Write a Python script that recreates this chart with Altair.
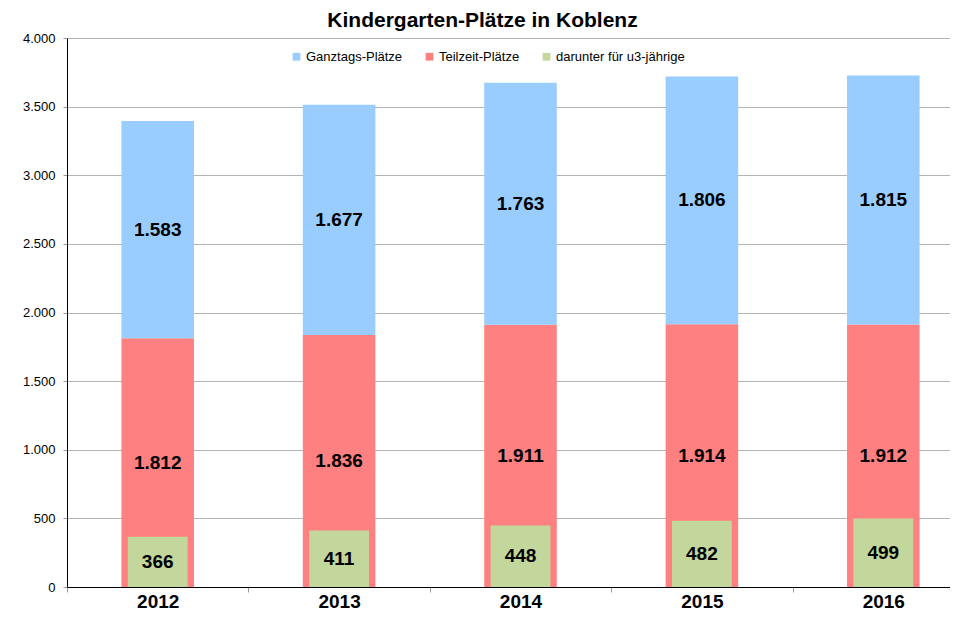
import altair as alt
import pandas as pd

years = ["2012", "2013", "2014", "2015", "2016"]
ganztags = [1583, 1677, 1763, 1806, 1815]
teilzeit = [1812, 1836, 1911, 1914, 1912]
u3 = [366, 411, 448, 482, 499]

series_names = ["Ganztags-Plätze", "Teilzeit-Plätze", "darunter für u3-jährige"]
colors = ["#99CCFF", "#FF8080", "#C3D69B"]
y_ticks = [0, 500, 1000, 1500, 2000, 2500, 3000, 3500, 4000]

stack_df = pd.DataFrame({
    "year": years * 2,
    "series": [series_names[1]] * len(years) + [series_names[0]] * len(years),
    "value": teilzeit + ganztags,
    "rank": [0] * len(years) + [1] * len(years),
})
u3_df = pd.DataFrame({"year": years, "series": series_names[2], "value": u3})

FONT = "Liberation Sans"
DE_FMT = "replace(format(datum.value, ','), ',', '.')"

x_enc = alt.X(
    "year:N",
    scale=alt.Scale(range=[0, 907], paddingInner=0, paddingOuter=0),
    axis=alt.Axis(
        title=None, tickBand="extent", labelAngle=0, labelFont=FONT,
        labelFontSize=19, labelFontWeight="bold", labelColor="black",
        labelBaseline="alphabetic", labelPadding=15, tickSize=5,
        tickColor="#999999", domainColor="black", grid=False,
    ),
)
y_scale = alt.Scale(domain=[0, 4000], nice=False)
y_axis = alt.Axis(
    title=None, values=y_ticks, labelExpr=DE_FMT, labelFont=FONT,
    labelFontSize=13, labelColor="black", labelPadding=8, tickSize=4,
    tickColor="#999999", domainColor="black", gridColor="#b3b3b3",
)
color_enc = alt.Color(
    "series:N",
    scale=alt.Scale(domain=series_names, range=colors),
    legend=alt.Legend(
        title=None, orient="none", legendX=223, legendY=12,
        direction="horizontal", symbolType="square", symbolSize=60,
        labelFont=FONT, labelFontSize=13, labelColor="black",
        columnPadding=20, labelOffset=3, padding=0, symbolStrokeWidth=0,
    ),
)

bars = alt.Chart(stack_df).mark_bar(width=alt.RelativeBandSize(0.4)).encode(
    x=x_enc,
    y=alt.Y("value:Q", stack="zero", scale=y_scale, axis=y_axis),
    color=color_enc,
    order=alt.Order("rank:Q", sort="ascending"),
)

stack_text = alt.Chart(stack_df).transform_stack(
    stack="value", groupby=["year"],
    sort=[alt.SortField("rank", order="ascending")], as_=["v0", "v1"],
).transform_calculate(
    mid="(datum.v0 + datum.v1) / 2", label=DE_FMT,
).mark_text(font=FONT, fontSize=19, fontWeight="bold", color="black").encode(
    x=alt.X("year:N"), y=alt.Y("mid:Q"), text="label:N",
)

green = alt.Chart(u3_df).mark_bar(width=alt.RelativeBandSize(0.33)).encode(
    x=alt.X("year:N"),
    y=alt.Y("value:Q", stack=None),
    color=color_enc,
)

green_text = alt.Chart(u3_df).transform_calculate(
    mid="datum.value / 2", label=DE_FMT,
).mark_text(font=FONT, fontSize=19, fontWeight="bold", color="black").encode(
    x=alt.X("year:N"), y=alt.Y("mid:Q"), text="label:N",
)

chart = alt.layer(bars, green, stack_text, green_text).properties(
    width=883,
    height=549,
    title=alt.TitleParams(
        "Kindergarten-Plätze in Koblenz", font=FONT, fontSize=21,
        fontWeight="bold", color="black", anchor="middle", dx=-26,
        offset=1,
    ),
    autosize=alt.AutoSizeParams(type="none"),
    padding={"left": 59, "top": 30, "right": 0, "bottom": 24},
).configure_view(stroke=None)

chart.save("out.html", embed_options={"renderer": "svg", "actions": False})
